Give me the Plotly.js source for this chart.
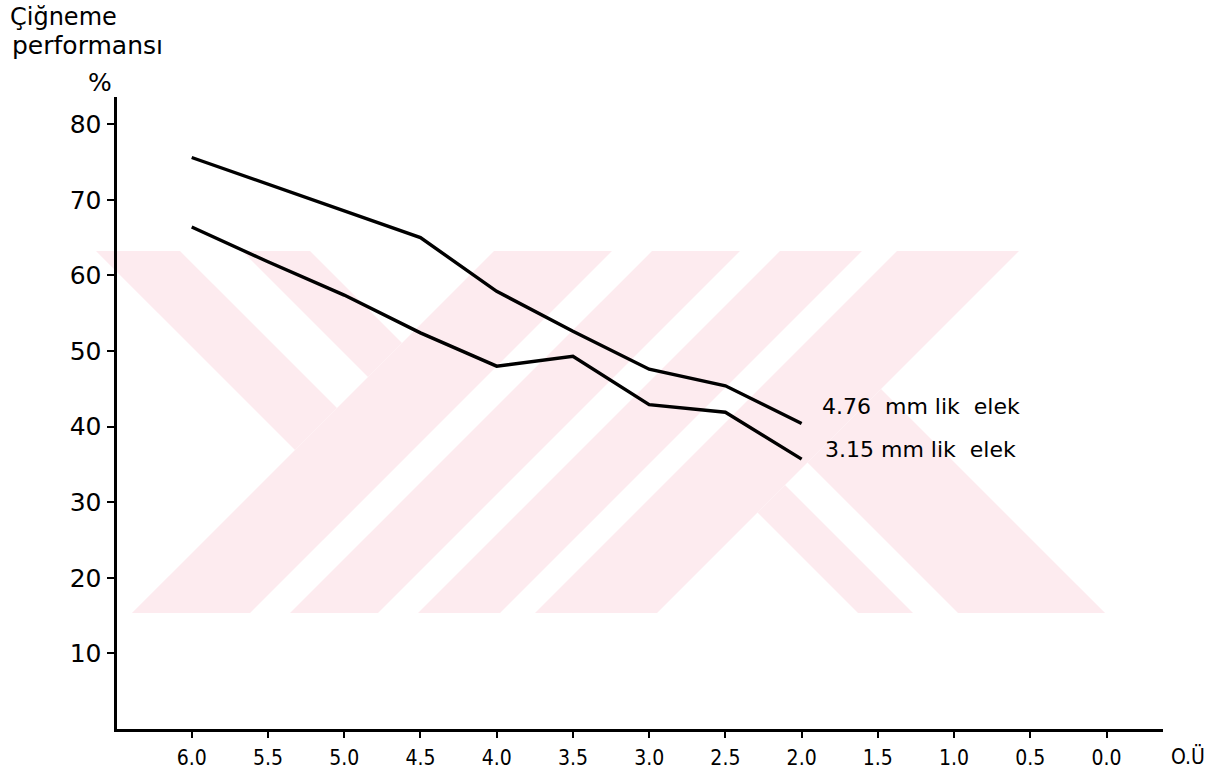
<!DOCTYPE html>
<html>
<head>
<meta charset="utf-8">
<script src="https://cdn.plot.ly/plotly-3.0.1.min.js"></script>
<style>html,body{margin:0;padding:0;background:#ffffff;}</style>
</head>
<body>
<div id="chart" style="width:1211px;height:774px;"></div>
<script>
// ---- data ----
const sieveOpening = [6.0, 5.5, 5.0, 4.5, 4.0, 3.5, 3.0, 2.5, 2.0];
const perf476 = [75.6, 72.1, 68.5, 65.0, 57.9, 52.6, 47.6, 45.4, 40.4];
const perf315 = [66.4, 61.8, 57.4, 52.4, 48.0, 49.3, 42.9, 41.9, 35.7];
const seriesNames = ['4.76  mm lik  elek', '3.15 mm lik  elek'];
const xTickVals = [6.0, 5.5, 5.0, 4.5, 4.0, 3.5, 3.0, 2.5, 2.0, 1.5, 1.0, 0.5, 0.0];
const xTickText = ['6.0', '5.5', '5.0', '4.5', '4.0', '3.5', '3.0', '2.5', '2.0', '1.5', '1.0', '0.5', '0.0'];
const xExtraLabel = 'O.Ü';
const yTickVals = [10, 20, 30, 40, 50, 60, 70, 80];
const yTitleLines = ['Çiğneme', 'performansı', '%'];

// ---- layout geometry (pixels) ----
const W = 1211, H = 774;
const M = {l: 117, r: 48, t: 97, b: 45};
const plotW = W - M.l - M.r, plotH = H - M.t - M.b;
const px = x => (x - M.l) / plotW;           // pixel -> paper x
const py = y => (H - M.b - y) / plotH;       // pixel -> paper y

// faint pink background watermark (decoration), polygons in pixel space
const wmColor = 'rgb(253,235,239)';
const wmPolys = [
  [[96,251],[180,251],[337,408],[295,450]],
  [[242,251],[310,251],[402,343],[368,377]],
  [[494,251],[612,251],[250,613],[132,613]],
  [[652,251],[740,251],[378,613],[290,613]],
  [[780,251],[862,251],[500,613],[418,613]],
  [[897,251],[1019,251],[657,613],[535,613]],
  [[757.5,512.5],[785,485],[913,613],[858,613]],
  [[807.5,462.5],[881,389],[1105,613],[958,613]]
];
const shapes = wmPolys.map(poly => ({
  type: 'path', xref: 'paper', yref: 'paper', layer: 'below',
  path: 'M' + poly.map(p => px(p[0]).toFixed(4) + ',' + py(p[1]).toFixed(4)).join(' L') + ' Z',
  fillcolor: wmColor, line: {width: 0}
}));

const lineStyle = {color: '#000000', width: 3.4};
const traces = [
  {x: sieveOpening, y: perf476, type: 'scatter', mode: 'lines', name: seriesNames[0], line: lineStyle, hoverinfo: 'x+y'},
  {x: sieveOpening, y: perf315, type: 'scatter', mode: 'lines', name: seriesNames[1], line: lineStyle, hoverinfo: 'x+y'}
];

const labelFont = {family: 'DejaVu Sans, sans-serif', size: 22, color: '#000'};
const titleFont = {family: 'DejaVu Sans, sans-serif', size: 24, color: '#000'};
const last = sieveOpening.length - 1;

const annotations = [
  {xref: 'x', yref: 'y', x: sieveOpening[last], y: perf476[last], text: seriesNames[0], showarrow: false,
   xanchor: 'left', yanchor: 'middle', xshift: 18, yshift: 17, font: labelFont},
  {xref: 'x', yref: 'y', x: sieveOpening[last], y: perf315[last], text: seriesNames[1], showarrow: false,
   xanchor: 'left', yanchor: 'middle', xshift: 21, yshift: 10, font: labelFont},
  {xref: 'paper', yref: 'paper', x: px(8), y: py(17), text: yTitleLines[0], showarrow: false,
   xanchor: 'left', yanchor: 'middle', font: titleFont},
  {xref: 'paper', yref: 'paper', x: px(10), y: py(45), text: yTitleLines[1], showarrow: false,
   xanchor: 'left', yanchor: 'middle', font: {family: 'DejaVu Sans, sans-serif', size: 25, color: '#000'}},
  {xref: 'paper', yref: 'paper', x: px(100), y: py(82), text: yTitleLines[2], showarrow: false,
   xanchor: 'center', yanchor: 'middle', font: {family: 'DejaVu Sans, sans-serif', size: 25, color: '#000'}},
  {xref: 'paper', yref: 'paper', x: px(1188), y: py(756), text: xExtraLabel, showarrow: false,
   xanchor: 'center', yanchor: 'middle', font: {family: 'DejaVu Sans Condensed, DejaVu Sans, sans-serif', size: 21, color: '#000'}}
];

const layout = {
  width: W, height: H,
  margin: M,
  paper_bgcolor: '#ffffff', plot_bgcolor: 'rgba(0,0,0,0)',
  showlegend: false,
  xaxis: {
    range: [6.49, -0.37], tickmode: 'array', tickvals: xTickVals, ticktext: xTickText,
    showgrid: false, zeroline: false, showline: true, linecolor: '#000', linewidth: 3,
    ticks: 'outside', ticklen: 6, tickwidth: 2, tickcolor: '#000',
    ticklabelstandoff: 2,
    tickfont: {family: 'DejaVu Sans Condensed, DejaVu Sans, sans-serif', size: 21, color: '#000'}
  },
  yaxis: {
    range: [0, 83.6], tickmode: 'array', tickvals: yTickVals,
    showgrid: false, zeroline: false, showline: true, linecolor: '#000', linewidth: 3.5,
    ticks: 'outside', ticklen: 7, tickwidth: 2, tickcolor: '#000',
    tickfont: {family: 'DejaVu Sans, sans-serif', size: 25, color: '#000'}
  },
  shapes: shapes,
  annotations: annotations
};

Plotly.newPlot('chart', traces, layout, {displayModeBar: false, staticPlot: true});
</script>
</body>
</html>
